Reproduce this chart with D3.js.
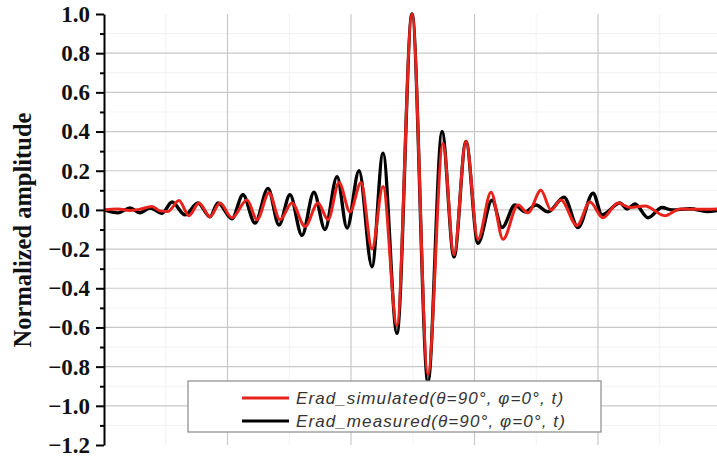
<!DOCTYPE html>
<html>
<head>
<meta charset="utf-8">
<script src="https://cdn.jsdelivr.net/npm/d3@7"></script>
<style>
  body { margin: 0; background: #fff; }
  svg { display: block; }
</style>
</head>
<body>
<div id="chart"></div>
<script>
// measured curve (black), time in grid units, peaks/troughs
var tMeasured = [0, 0.113, 0.211, 0.291, 0.372, 0.470, 0.551, 0.656, 0.761, 0.858, 0.923,
  1.036, 1.125, 1.223, 1.328, 1.417, 1.506, 1.603, 1.700, 1.789, 1.887, 1.968,
  2.065, 2.170, 2.259, 2.372, 2.494, 2.623, 2.737, 2.834, 2.931,
  3.028, 3.142, 3.223, 3.328, 3.409, 3.498, 3.595, 3.725, 3.838, 3.960,
  4.032, 4.178, 4.235, 4.300, 4.405, 4.518, 4.599, 4.745, 4.883, 4.988];
var vMeasured = [0, -0.015, 0.01, -0.015, 0.01, -0.017, 0.04, -0.025, 0.035, -0.035, 0.035,
  -0.045, 0.077, -0.067, 0.11, -0.077, 0.077, -0.13, 0.09, -0.10, 0.17, -0.093,
  0.20, -0.29, 0.29, -0.63, 1.0, -0.88, 0.40, -0.24, 0.35,
  -0.17, 0.05, -0.09, 0.025, -0.01, 0.025, -0.01, 0.065, -0.09, 0.085,
  -0.025, 0.035, 0.005, 0.03, -0.04, 0.012, 0.0, 0.006, -0.008, 0.0];

// simulated curve (red)
var tSimulated = [0, 0.113, 0.211, 0.291, 0.389, 0.453, 0.518, 0.607, 0.688, 0.769, 0.858, 0.939,
  1.036, 1.158, 1.239, 1.336, 1.425, 1.522, 1.628, 1.733, 1.814, 1.903, 1.992,
  2.081, 2.170, 2.259, 2.372, 2.494, 2.623, 2.745, 2.834, 2.931,
  3.028, 3.134, 3.231, 3.352, 3.433, 3.538, 3.619, 3.700, 3.830, 3.935,
  4.040, 4.162, 4.259, 4.381, 4.543, 4.664, 4.826, 4.988];
var vSimulated = [0, 0.005, -0.003, 0.003, 0.018, -0.005, -0.008, 0.048, -0.03, 0.035, -0.035, 0.035,
  -0.04, 0.05, -0.05, 0.087, -0.05, 0.035, -0.085, 0.035, -0.05, 0.14, -0.01,
  0.14, -0.20, 0.12, -0.59, 1.0, -0.84, 0.34, -0.23, 0.35,
  -0.15, 0.09, -0.15, 0.025, -0.015, 0.10, 0.0, 0.05, -0.08, 0.04,
  -0.04, 0.035, 0.012, 0.02, -0.03, 0.005, 0.003, 0.005];

var yTicks = [1.0, 0.8, 0.6, 0.4, 0.2, 0.0, -0.2, -0.4, -0.6, -0.8, -1.0, -1.2];
var yMinor = [0.9, 0.7, 0.5, 0.3, 0.1, -0.1, -0.3, -0.5, -0.7, -0.9, -1.1];
var xGrid = [1, 2, 3, 4];
var xMinor = [0.5, 1.5, 2.5, 3.5, 4.5];

var legendLabels = ['Erad_simulated(\u03b8=90\u00b0, \u03c6=0\u00b0, t)',
                    'Erad_measured(\u03b8=90\u00b0, \u03c6=0\u00b0, t)'];
var legendColors = ['#e8231b', '#000000'];

var svgWidth = 717;
var svgHeight = 457;

var svg = d3.select('#chart')
  .append('svg')
  .attr('width', svgWidth)
  .attr('height', svgHeight);

var x = d3.scaleLinear().domain([0, 5]).range([104, 721.5]);
var y = d3.scaleLinear().domain([-1.2, 1.0]).range([445, 14]);

// faint minor grid
svg.append('g').selectAll('line.hminor')
  .data(yMinor).enter().append('line')
  .attr('x1', x(0)).attr('x2', svgWidth)
  .attr('y1', function(d) { return y(d); })
  .attr('y2', function(d) { return y(d); })
  .attr('stroke', '#f2f2f2').attr('stroke-width', 1);
svg.append('g').selectAll('line.vminor')
  .data(xMinor).enter().append('line')
  .attr('x1', function(d) { return x(d); })
  .attr('x2', function(d) { return x(d); })
  .attr('y1', y(1.0)).attr('y2', y(-1.2))
  .attr('stroke', '#f2f2f2').attr('stroke-width', 1);

// major grid
svg.append('g').selectAll('line.hgrid')
  .data(yTicks.filter(function(d) { return d < 1.0 && d > -1.2; }))
  .enter().append('line')
  .attr('x1', x(0)).attr('x2', svgWidth)
  .attr('y1', function(d) { return y(d); })
  .attr('y2', function(d) { return y(d); })
  .attr('stroke', '#c8c8c8').attr('stroke-width', 1.2);
svg.append('g').selectAll('line.vgrid')
  .data(xGrid).enter().append('line')
  .attr('x1', function(d) { return x(d); })
  .attr('x2', function(d) { return x(d); })
  .attr('y1', y(1.0)).attr('y2', y(-1.2))
  .attr('stroke', '#c8c8c8').attr('stroke-width', 1.2);

// curves
var line = d3.line()
  .x(function(d) { return x(d[0]); })
  .y(function(d) { return y(d[1]); })
  .curve(d3.curveMonotoneX);

svg.append('path')
  .datum(d3.zip(tMeasured, vMeasured))
  .attr('d', line)
  .attr('fill', 'none')
  .attr('stroke', legendColors[1])
  .attr('stroke-width', 3.4)
  .attr('stroke-linejoin', 'round');

svg.append('path')
  .datum(d3.zip(tSimulated, vSimulated))
  .attr('d', line)
  .attr('fill', 'none')
  .attr('stroke', legendColors[0])
  .attr('stroke-width', 3)
  .attr('stroke-linejoin', 'round');

// y axis
var fmt = function(d) { return d3.format('.1f')(d).replace('-', '\u2013'); };

var yAxis = svg.append('g')
  .attr('transform', 'translate(' + x(0) + ',0)')
  .call(d3.axisLeft(y).tickValues(yTicks).tickFormat(fmt).tickSize(8).tickSizeOuter(0).tickPadding(6));
yAxis.select('.domain').attr('stroke', '#000').attr('stroke-width', 2);
yAxis.selectAll('.tick line').attr('stroke', '#000').attr('stroke-width', 2);
yAxis.selectAll('.tick text')
  .attr('fill', '#111')
  .style('font-family', '"Liberation Serif", "Times New Roman", serif')
  .style('font-weight', 'bold')
  .style('font-size', '23px');

var yAxisMinor = svg.append('g')
  .attr('transform', 'translate(' + x(0) + ',0)')
  .call(d3.axisLeft(y).tickValues(yMinor).tickFormat('').tickSize(4).tickSizeOuter(0));
yAxisMinor.select('.domain').remove();
yAxisMinor.selectAll('.tick line').attr('stroke', '#000').attr('stroke-width', 2);

svg.append('text')
  .attr('transform', 'translate(31,230) rotate(-90)')
  .attr('text-anchor', 'middle')
  .attr('fill', '#111')
  .style('font-family', '"Liberation Serif", "Times New Roman", serif')
  .style('font-weight', 'bold')
  .style('font-size', '24.5px')
  .text('Normalized amplitude');

// legend
var legend = svg.append('g').attr('transform', 'translate(188,381)');
legend.append('rect')
  .attr('width', 413).attr('height', 51)
  .attr('fill', '#fff')
  .attr('stroke', '#8a8a8a').attr('stroke-width', 1.2);

var items = legend.selectAll('.item')
  .data(legendLabels).enter().append('g')
  .attr('class', 'item')
  .attr('transform', function(d, i) { return 'translate(0,' + (17 + i * 23) + ')'; });

items.append('line')
  .attr('x1', 54).attr('x2', 101)
  .attr('stroke', function(d, i) { return legendColors[i]; })
  .attr('stroke-width', 3);

items.append('text')
  .attr('x', 108).attr('y', 6)
  .attr('fill', '#333')
  .style('font-family', '"Liberation Sans", Arial, sans-serif')
  .style('font-style', 'italic')
  .style('font-size', '17px')
  .style('letter-spacing', '1.1px')
  .text(function(d) { return d; });
</script>
</body>
</html>
